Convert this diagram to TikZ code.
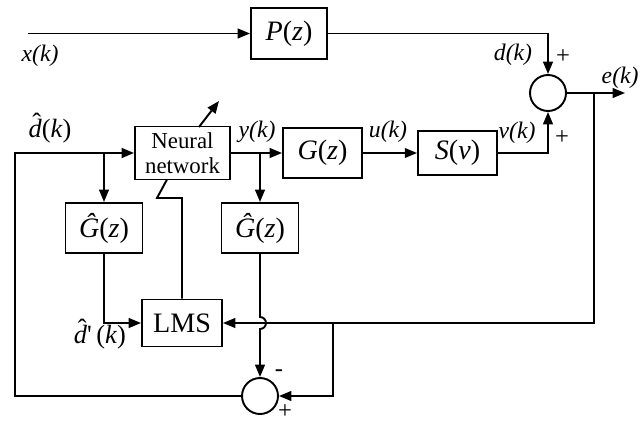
\documentclass[tikz,border=0pt]{standalone}
\usepackage{fontspec}
\setmainfont{Liberation Serif}
\usetikzlibrary{arrows.meta,positioning}
\newcommand{\hatd}{{\ooalign{\textit{d}\cr\hidewidth\kern0.12em\raisebox{0.48ex}{ˆ}\hidewidth\cr}}}

\begin{document}
\begin{tikzpicture}[x=0.02cm, y=-0.02cm, line width=1.1pt,
  >={Triangle[length=7pt,width=5.5pt]},
  block/.style={draw, inner sep=0pt, minimum width=1.56cm, minimum height=1cm, font=\fontsize{16}{18}\selectfont},
  sumnode/.style={draw, circle, inner sep=0pt, minimum size=0.72cm},
  lbl/.style={font=\fontsize{13.5}{15}\selectfont\itshape, inner sep=1pt},
  hatlbl/.style={font=\fontsize{15}{17}\selectfont, inner sep=1pt},
  sgn/.style={font=\fontsize{14}{16}\selectfont, inner sep=0pt}]
  \useasboundingbox (0,0) rectangle (644,422);

  % blocks
  \node[block, minimum width=1.52cm, minimum height=1.02cm] (plant) at (289,33.5) {\textit{P}(\textit{z})};
  \node[block, minimum width=1.9cm, minimum height=1.06cm, align=center,
        font=\fontsize{13}{14.5}\selectfont] (nn) at (182.5,153) {Neural\\network};
  \node[block, minimum width=1.58cm] (gz) at (322.5,153) {\textit{G}(\textit{z})};
  \node[block, minimum width=1.58cm, minimum height=0.88cm] (sv) at (457.5,153) {\textit{S}(\textit{v})};
  \node[block, minimum width=1.54cm] (gh1) at (104,228) {\textit{Ĝ}(\textit{z})};
  \node[block, minimum width=1.54cm] (gh2) at (260,228) {\textit{Ĝ}(\textit{z})};
  \node[block, minimum width=1.6cm, minimum height=0.94cm] (lms) at (182,323) {LMS};
  \node[sumnode] (sum1) at (548,93) {};
  \node[sumnode] (sum2) at (260,396) {};

  % helper points
  \coordinate (xin) at (28,33.5);
  \coordinate (etap) at (594,93);
  \coordinate (eout) at (625,93);
  \coordinate (ecorner) at (594,323);
  \coordinate (etap2) at (333,323);
  \coordinate (ecorner2) at (333,396);
  \coordinate (dtap) at (104,153);
  \coordinate (ytap) at (260,153);
  \coordinate (gcorner) at (104,323);
  \coordinate (hopin) at (260,317);
  \coordinate (lc1) at (15,396);
  \coordinate (lc2) at (15,153);
  \coordinate (z0) at (167,179.5);
  \coordinate (z1) at (157,198);
  \coordinate (z2) at (182,198);
  \coordinate (adapt0) at (199,127);
  \coordinate (adapt1) at (219,101);

  % connectors
  \draw[->] (xin) -- (plant);
  \draw[->] (plant.east) -| (sum1.north);
  \draw[->] (sum1.east) -- (eout);
  \draw[->] (etap) -- (ecorner) -- (lms.east);
  \draw[->] (etap2) -- (ecorner2) -- (sum2.east);
  \draw[->] (nn) -- (gz);
  \draw[->] (gz) -- (sv);
  \draw[->] (sv.east) -| (sum1.south);
  \draw[->] (dtap) -- (gh1.north);
  \draw[->] (ytap) -- (gh2.north);
  \draw[->] (gh1.south) -- (gcorner) -- (lms.west);
  \draw[->] (gh2.south) -- (hopin) arc[start angle=90, end angle=-90, radius=0.12cm] -- (sum2.north);
  \draw[->] (sum2.west) -- (lc1) -- (lc2) -- (nn.west);
  \draw (z0) -- (z1) -- (z2) -- (lms.north);
  \draw[->] (adapt0) -- (adapt1);

  % labels
  \node[lbl] (lx) at (40,56) {x(k)};
  \node[lbl] (ld) at (513,55) {d(k)};
  \node[lbl, anchor=west] (le) at (599,78) {e(k)};
  \node[lbl] (ly) at (257,132) {y(k)};
  \node[lbl] (lu) at (388,132) {u(k)};
  \node[lbl] (lv) at (517,133) {v(k)};
  \node[hatlbl] (ldh) at (50,131) {\hatd(\textit{k})};
  \node[hatlbl] (ldp) at (100,337) {\hatd\textquotesingle\,(\textit{k})};
  \node[sgn] (s1) at (563,57) {+};
  \node[sgn] (s2) at (562,138) {+};
  \node[sgn] (s3) at (279,373) {-};
  \node[sgn] (s4) at (285,412) {+};
\end{tikzpicture}
\end{document}
